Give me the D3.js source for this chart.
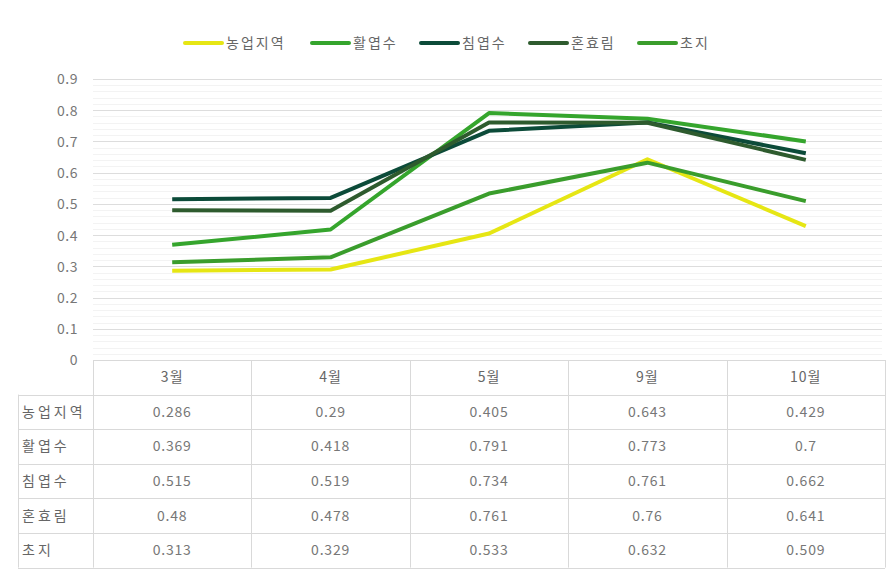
<!DOCTYPE html>
<html><head><meta charset="utf-8">
<script src="https://cdn.jsdelivr.net/npm/d3@7/dist/d3.min.js"></script>
<style>
body{margin:0;background:#fff;}
text{font-family:"Noto Sans CJK KR","Noto Sans",sans-serif;}
</style></head>
<body><svg id="c" width="891" height="579"></svg>
<script>
const categories = ["3월","4월","5월","9월","10월"];
const seriesNames = ["농업지역","활엽수","침엽수","혼효림","초지"];
const agri   = [0.286,0.29,0.405,0.643,0.429];
const broad  = [0.369,0.418,0.791,0.773,0.7];
const conif  = [0.515,0.519,0.734,0.761,0.662];
const mixed  = [0.48,0.478,0.761,0.76,0.641];
const grass  = [0.313,0.329,0.533,0.632,0.509];
const yTicks = [0,0.1,0.2,0.3,0.4,0.5,0.6,0.7,0.8,0.9];
const colors = ["#e6e614","#35a52d","#0c4b39","#2e5b2e","#3a9d2c"];
const series = [agri,broad,conif,mixed,grass];

const svg = d3.select("#c");
const L=93, R=885, T=79, B=360;
const x = d3.scaleBand().domain(categories).range([L,R]);
const y = d3.scaleLinear().domain([0,0.9]).range([B,T]);

// minor grid
const minor = d3.range(0,0.9001,0.02).filter(v=>Math.abs(v*10-Math.round(v*10))>1e-6);
svg.append("g").selectAll("line").data(minor).join("line")
  .attr("x1",L).attr("x2",882).attr("y1",d=>Math.round(y(d))+0.5).attr("y2",d=>Math.round(y(d))+0.5)
  .attr("stroke","#f3f3f3").attr("stroke-width",1);
// major grid
svg.append("g").selectAll("line").data(yTicks.filter(d=>d>0)).join("line")
  .attr("x1",L).attr("x2",882).attr("y1",d=>Math.round(y(d))+0.5).attr("y2",d=>Math.round(y(d))+0.5)
  .attr("stroke","#dddddd").attr("stroke-width",1);

// y axis labels
const yAxis = d3.axisLeft(y).tickValues(yTicks).tickSize(0).tickPadding(0).tickFormat(d=>d===0?"0":d3.format(".1f")(d));
const gy = svg.append("g").attr("transform","translate(78,0)").call(yAxis);
gy.select(".domain").remove();
gy.selectAll("text").attr("fill","#777").style("font-size","14px").style("letter-spacing","0.5px").attr("dy","0.35em");

// lines
const line = d3.line().x((d,i)=>x(categories[i])+x.bandwidth()/2).y(d=>y(d));
svg.append("g").selectAll("path").data(series).join("path")
  .attr("d",d=>line(d)).attr("fill","none")
  .attr("stroke",(d,i)=>colors[i]).attr("stroke-width",4).attr("stroke-linejoin","round");

// table
const rowH = 34.6, headerTop = B, tbl = svg.append("g");
const rowTop = i=>headerTop + rowH*(i+1);
const tableBottom = rowTop(seriesNames.length);
const border = "#d9d9d9";
tbl.append("line").attr("x1",L).attr("x2",R).attr("y1",headerTop+0.5).attr("y2",headerTop+0.5).attr("stroke",border);
for(let i=0;i<=seriesNames.length;i++){
  tbl.append("line").attr("x1",18).attr("x2",R).attr("y1",Math.round(rowTop(i))+0.5).attr("y2",Math.round(rowTop(i))+0.5).attr("stroke",border);
}
tbl.append("line").attr("x1",18.5).attr("x2",18.5).attr("y1",rowTop(0)).attr("y2",tableBottom).attr("stroke",border);
const vx = [L].concat(categories.map(c=>x(c)+x.bandwidth()));
vx.forEach(v=>tbl.append("line").attr("x1",Math.round(v)+0.5).attr("x2",Math.round(v)+0.5).attr("y1",headerTop).attr("y2",tableBottom).attr("stroke",border));
tbl.selectAll("text.h").data(categories).join("text").attr("class","h")
  .attr("x",d=>x(d)+x.bandwidth()/2).attr("y",headerTop+rowH/2).attr("dy","0.35em")
  .attr("text-anchor","middle").attr("fill","#666").style("font-size","14px").style("letter-spacing","1px").text(d=>d);
seriesNames.forEach((n,i)=>{
  const cy = rowTop(i)+rowH/2;
  tbl.append("text").attr("x",22).attr("y",cy).attr("dy","0.35em").attr("fill","#666")
    .style("font-size","14px").style("letter-spacing","3px").text(n);
  tbl.selectAll(null).data(series[i]).join("text")
    .attr("x",(d,j)=>x(categories[j])+x.bandwidth()/2).attr("y",cy).attr("dy","0.35em")
    .attr("text-anchor","middle").attr("fill","#777").style("font-size","14px").style("letter-spacing","0.8px").text(d=>String(d));
});

// legend
const legX = [184,311,420,529,638];
const lg = svg.append("g");
seriesNames.forEach((n,i)=>{
  lg.append("line").attr("x1",legX[i]+1).attr("x2",legX[i]+38).attr("y1",43).attr("y2",43)
    .attr("stroke",colors[i]).attr("stroke-width",4).attr("stroke-linecap","round");
  lg.append("text").attr("x",legX[i]+42).attr("y",43).attr("dy","0.35em").attr("fill","#666")
    .style("font-size","14px").style("letter-spacing","2px").text(n);
});
</script></body></html>
